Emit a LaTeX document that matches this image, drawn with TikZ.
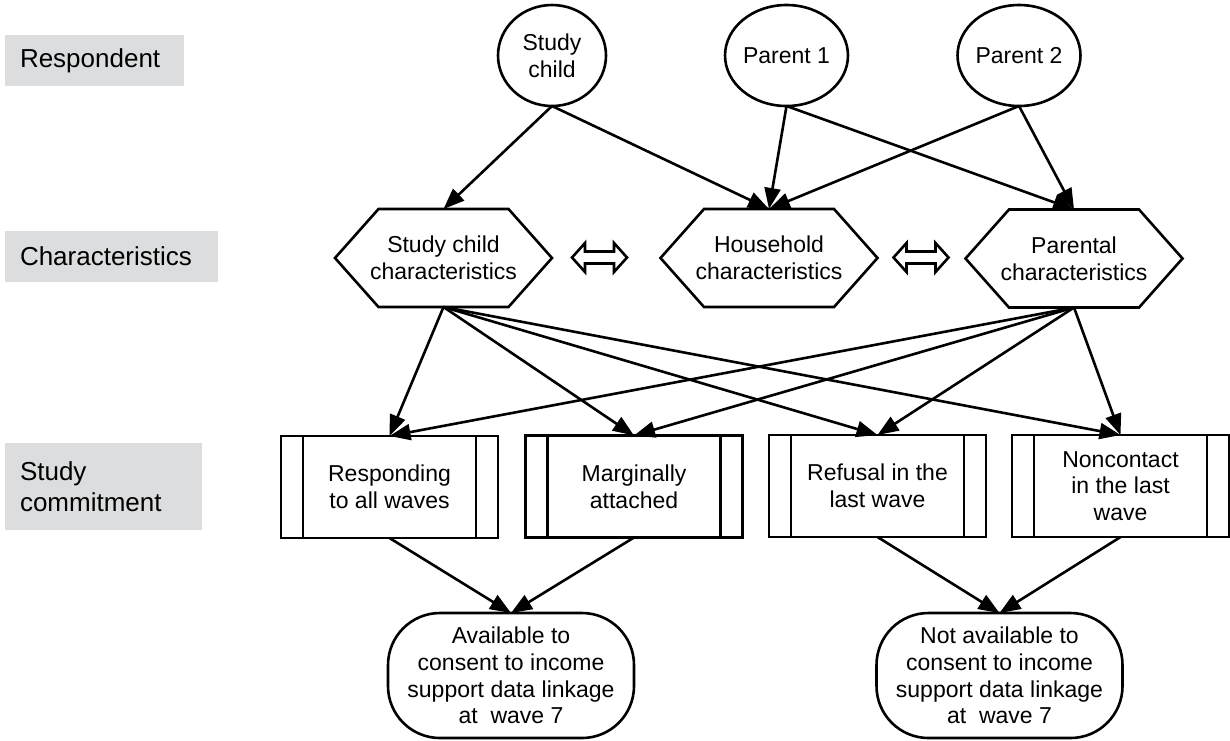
\documentclass[tikz,border=0pt]{standalone}
\usepackage{fontspec}
\setmainfont{Liberation Sans}
\usetikzlibrary{arrows.meta,shapes.geometric,calc}
\definecolor{labelgray}{RGB}{220,221,223}
\begin{document}
\begin{tikzpicture}[x=1pt,y=-1pt,
  every node/.style={font=\fontsize{23}{26.7}\selectfont, outer sep=0pt},
  lw/.style={line width=2.6pt},
  person/.style={ellipse, draw, lw, minimum width=108pt, minimum height=101pt, inner sep=0pt, align=center},
  hexbase/.style={rectangle, minimum width=130pt, minimum height=98pt, inner sep=0pt, align=center},
  hexline/.style={lw, line join=miter},
  commit/.style={rectangle, draw, lw, minimum width=217pt, minimum height=102pt, align=center, inner sep=0pt,
    path picture={\draw[line width=2.6pt]
      ([xshift=22pt]path picture bounding box.north west) -- ([xshift=22pt]path picture bounding box.south west)
      ([xshift=-22pt]path picture bounding box.north east) -- ([xshift=-22pt]path picture bounding box.south east);}},
  term/.style={rectangle, rounded corners=52pt, draw, lw, minimum width=246pt, minimum height=125pt, align=center, inner sep=0pt},
  lab/.style={fill=labelgray, anchor=west, inner xsep=15pt, inner ysep=0pt, align=left, font=\fontsize{26}{31}\selectfont},
  conn/.style={lw, -{Triangle[length=21pt,width=16pt]}},
  dbl/.style={lw, line join=miter},
]
\useasboundingbox (0,0) rectangle (1230,740);

% row labels
\node[lab, minimum width=179pt, minimum height=51pt, text width=149pt] (lresp) at (5,60.5) {Respondent};
\node[lab, minimum width=213pt, minimum height=51pt, text width=183pt] (lchar) at (5,256.5) {Characteristics};
\node[lab, minimum width=197pt, minimum height=87pt, text width=167pt] (lcomm) at (5,486.5) {Study\\commitment};

% respondents
\node[person] (sc) at (552,55.5) {Study\\child};
\node[person] (p1) at (786.5,55.5) {Parent 1};
\node[person] (p2) at (1019,55.5) {Parent 2};

% characteristics
\node[hexbase] (scc) at (443.5,258) {Study child\\characteristics};
\node[hexbase] (hh) at (769,258) {Household\\characteristics};
\node[hexbase] (pc) at (1074,258.5) {Parental\\characteristics};
\foreach \n in {scc,hh,pc}
  \draw[hexline] ($(\n.center)+(-65,-49)$) -- ($(\n.center)+(65,-49)$) -- ($(\n.center)+(108.5,0)$)
    -- ($(\n.center)+(65,49)$) -- ($(\n.center)+(-65,49)$) -- ($(\n.center)+(-108.5,0)$) -- cycle;

% double arrows
\coordinate (da1) at (599.5,257.5);
\coordinate (da2) at (921,257.5);
\foreach \c in {da1,da2}
  \draw[dbl, shift={(\c)}] (-27.5,0) -- (-14.5,-14.5) -- (-14.5,-6) -- (14.5,-6) -- (14.5,-14.5)
    -- (27.5,0) -- (14.5,14.5) -- (14.5,6) -- (-14.5,6) -- (-14.5,14.5) -- cycle;

% study commitment
\node[commit] (b1) at (389.5,487) {Responding\\to all waves};
\node[commit] (b2) at (634,486.5) {Marginally\\attached};
\node[commit] (b3) at (877.5,486) {Refusal in the\\last wave};
\node[commit] (b4) at (1120.5,486) {Noncontact\\in the last\\wave};

% outcomes
\node[term] (av) at (511,675.5) {Available to\\consent to income\\support data linkage\\at\ \ wave 7};
\node[term] (na) at (999.5,675.5) {Not available to\\consent to income\\support data linkage\\at\ \ wave 7};

% connectors
\draw[conn] (sc.south) -- (scc.north);
\draw[conn] (sc.south) -- (hh.north);
\draw[conn] (p1.south) -- (hh.north);
\draw[conn] (p1.south) -- (pc.north);
\draw[conn] (p2.south) -- (hh.north);
\draw[conn] (p2.south) -- (pc.north);
\foreach \b in {b1,b2,b3,b4} {
  \draw[conn] (scc.south) -- (\b.north);
  \draw[conn] (pc.south) -- (\b.north);
}
\draw[conn] (b1.south) -- (av.north);
\draw[conn] (b2.south) -- (av.north);
\draw[conn] (b3.south) -- (na.north);
\draw[conn] (b4.south) -- (na.north);
\end{tikzpicture}
\end{document}
